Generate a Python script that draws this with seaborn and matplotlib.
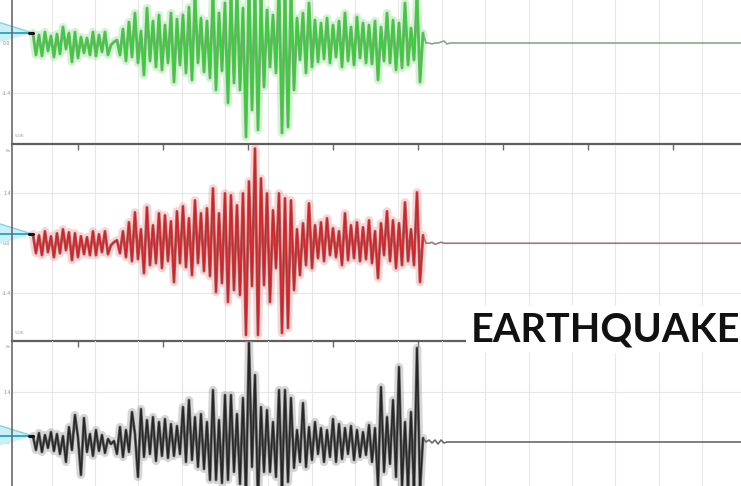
import numpy as np
import matplotlib
matplotlib.use("Agg")
import matplotlib.pyplot as plt
import seaborn as sns

# ---------------- data ----------------
# ground motion, arbitrary units (up = positive), one sample every SAMPLE_DT s
T_START = 0.47       # s, first sample of every record
SAMPLE_DT = 0.0353   # s
RECORD_END = 9.2     # s, flat signal continues to the end of the record
TIME_TICKS = [1, 2, 3, 4, 5, 6, 7, 8]
AMP_TICKS = [-50, 0, 50]
AMP_LABELS = {-50: "-1.4", 0: "0.0", 50: "1.4"}

green_event = [10, -12, 8, -13, 11, -8, 7, -14, 9, -11, 16, -6, 10, -19, 11, -15, 6, -10, 5, -12,
               11, -13, 8, -9, 11, -12, -2, 1, 3,
               -12, 14, -18, 21, -14, 30, -20, 12, -32, 35, -18, 22, -24, 28, -27, 18, -20, 30, -39, 24,
               -22, 28, -30, 36, -37, 48, -20, 25, -29, 22, -35, 50, -47, 30, -28, 40, -60, 48, -40, 55,
               -47, 35, -94, 60, -67, 52, -87, 45, -44, 33, -24, 28, -30, 58, -90, 50, -84, 55, -47, 25,
               -17, 30, -30, 40, -24, 23, -19, 20, -16, 25, -20, 18, -14, 22, -24, 30, -18, 16, -22, 26,
               -15, 20, -20, 18, -21, 22, -37, 16, -18, 30, -20, 23, -27, 20, -25, 40, -22, 15, -17, 48,
               -39, 10]
green_coda = [0, 0, -1, 0, 0, 1, 2, -1, 0]

red_event = [9, -10, 8, -12, 12, -9, 7, -14, 10, -10, 14, -7, 11, -17, 10, -14, 7, -11, 6, -12,
             12, -12, 9, -9, 12, -11, -2, 1, 3,
             -10, 12, -14, 21, -18, 31, -16, 14, -30, 36, -22, 18, -20, 30, -25, 28, -18, 22, -39, 32,
             -20, 37, -24, 25, -32, 43, -20, 30, -28, 35, -33, 55, -49, 30, -40, 50, -59, 48, -47, 38,
             -52, 50, -92, 62, -43, 95, -92, 65, -42, 50, -59, 33, -25, 50, -90, 45, -85, 43, -47, 14,
             -32, 20, -22, 40, -25, 18, -15, 21, -18, 25, -12, 15, -14, 12, -22, 30, -17, 18, -15, 21,
             -18, 16, -16, 23, -20, 12, -35, 20, -12, 32, -18, 23, -25, 20, -22, 41, -18, 14, -22, 51,
             -39, 8]
red_coda = [0, 0, 1, -1, 0, 1, 0, 0]

black_event = [6, -8, 9, -10, 7, -6, 10, -9, 8, -12, 6, -20, 15, -8, 27, 5, -33, 24, -10, 8,
               -14, 12, -9, 7, -11, 3, -2, 1,
               -12, 15, -15, 12, -10, 30, 8, -35, 33, -15, 22, -12, 25, -19, 20, -14, 23, -16, 18, -14,
               16, -12, 35, -20, 42, -18, 25, -25, 28, -27, 20, -38, 52, -38, 22, -41, 47, -38, 47, -30,
               28, -42, 44, -55, 99, -25, 67, -60, 35, -30, 32, -30, 20, -35, 52, -48, 52, -40, 44, -26,
               12, -20, 39, -25, 15, -18, 20, -12, 14, -20, 12, -15, 23, -20, 18, -17, 14, -12, 16, -18,
               12, -15, 10, -13, 17, -20, 14, -44, 55, -30, 25, -22, 42, -35, 75, -45, 20, -46, 30, -50,
               94, -48, 4]
black_coda = [0, 2, -1, 2, -2, 2, -1, 0]

# ---------------- figure ----------------
sns.set_theme(style="white")
plt.rcParams["font.family"] = ["DejaVu Sans"]

W, H = 741, 486
fig = plt.figure(figsize=(W / 100, H / 100), dpi=100, facecolor="white")

PX_PER_S = 85.0
x_left = 0.2235
x_right = x_left + (760 - 12) / PX_PER_S

panels = [
    dict(event=green_event, coda=green_coda, bottom=(H - 144) / H, ylim=(-101, 95),
         yt=[-50, 0], halo="#9fe69f", edge="#4f8a4f", core="#36cf36", coda_c="#8aa58a"),
    dict(event=red_event, coda=red_coda, bottom=(H - 340.5) / H, ylim=(-97.5, 99),
         yt=[-50, 0, 50], halo="#f0a0a0", edge="#7e2c2c", core="#d62226", coda_c="#a07878"),
    dict(event=black_event, coda=black_coda, bottom=(H - 536.5) / H, ylim=(-94.5, 101.5),
         yt=[0, 50], halo="#a8a8a8", edge="#333333", core="#262626", coda_c="#6a6a6a"),
]

grid_x = np.arange(0.69, 9.3, 0.51)

for k, p in enumerate(panels):
    ax = fig.add_axes([12 / W, p["bottom"], (760 - 12) / W, 196 / H])
    ax.set_facecolor("none")
    ev = np.array(p["event"], dtype=float)
    co = np.array(p["coda"], dtype=float)
    t_ev = T_START + SAMPLE_DT * np.arange(len(ev))
    t_co = T_START + SAMPLE_DT * np.arange(len(ev) - 1, len(ev) + len(co))
    v_co = np.concatenate([[ev[-1]], co])
    t_co = np.append(t_co, RECORD_END)
    v_co = np.append(v_co, 0.0)

    # light grid
    for gx in grid_x:
        ax.axvline(gx, color="#e7e7e7", lw=0.8, zorder=0)
    for gy in AMP_TICKS:
        if gy != 0:
            ax.axhline(gy, color="#e7e7e7", lw=0.8, zorder=0)

    # trace: glow, outline, core
    sns.lineplot(x=t_ev, y=ev, ax=ax, color=p["halo"], lw=6.0, alpha=0.45,
                 estimator=None, sort=False, legend=False, zorder=2)
    sns.lineplot(x=t_ev, y=ev, ax=ax, color=p["edge"], lw=2.1, alpha=0.65,
                 estimator=None, sort=False, legend=False, zorder=3)
    sns.lineplot(x=t_ev, y=ev, ax=ax, color=p["core"], lw=1.1,
                 estimator=None, sort=False, legend=False, zorder=4)
    sns.lineplot(x=t_co, y=v_co, ax=ax, color=p["coda_c"], lw=1.2,
                 estimator=None, sort=False, legend=False, zorder=3)

    # cyan level pointer at the start of each trace
    v0 = ev[0]
    lx = x_left - 14 / PX_PER_S
    ax.fill([lx, T_START, lx], [v0 + 11, v0, v0 - 10], color="#c9eff7",
            clip_on=False, zorder=1, lw=0)
    ax.plot([lx, T_START], [v0 + 11, v0], color="#86d3e4", lw=1.0, clip_on=False, zorder=1)
    ax.plot([lx, T_START], [v0, v0], color="#35a6c4", lw=1.4, clip_on=False, zorder=1)
    ax.plot([T_START - 4 / PX_PER_S, T_START], [v0, v0], color="#111111", lw=2.2,
            clip_on=False, zorder=5)

    ax.set_xlim(x_left, x_right)
    ax.set_ylim(*p["ylim"])
    ax.set_xlabel("")
    ax.set_ylabel("")
    ax.set_yticks(p["yt"])
    ax.set_yticklabels([AMP_LABELS[v] for v in p["yt"]])
    ax.tick_params(axis="y", length=0, labelsize=3.4, labelcolor="#8a8a8a", pad=1)
    ax.set_xticks(TIME_TICKS)
    ax.set_xticklabels([])
    ax.tick_params(axis="x", direction="out", length=4, width=1.0, color="#6a6a6a",
                   bottom=(k < 2))
    for side in ["top", "right"]:
        ax.spines[side].set_visible(False)
    ax.spines["left"].set_color("#6a6a6a")
    ax.spines["left"].set_linewidth(1.2)
    ax.spines["bottom"].set_color("#5e5e5e")
    ax.spines["bottom"].set_linewidth(1.6)
    if k == 2:
        ax.spines["bottom"].set_visible(False)
    ax.grid(False)
    # small corner stamps near the panel separators
    if k < 2:
        ax.text(0.004, 0.03, "5.0E", transform=ax.transAxes, fontsize=3.2, color="#9a9a9a",
                ha="left", va="bottom")
    if k > 0:
        ax.text(-0.0015, 0.975, "8s", transform=ax.transAxes, fontsize=3.2, color="#9a9a9a",
                ha="right", va="top")

fig.text(471 / W, (H - 341) / H, "EARTHQUAKE", fontsize=28.5, fontweight="bold",
         family=["Lato", "DejaVu Sans"], color="#111111", ha="left", va="baseline",
         bbox=dict(boxstyle="square,pad=0.12", fc="white", ec="none"), zorder=10)

fig.savefig("out.png", dpi=100, facecolor="white")
